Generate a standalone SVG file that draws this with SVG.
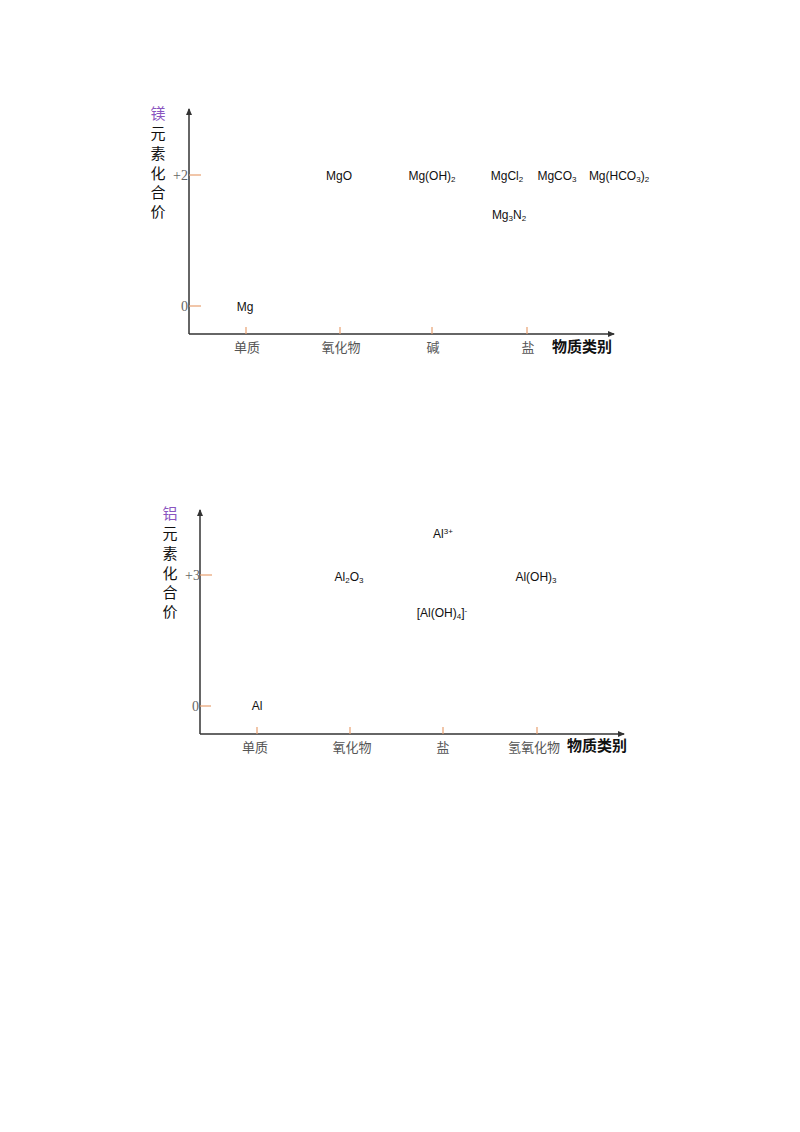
<svg xmlns="http://www.w3.org/2000/svg" width="800" height="1132" viewBox="0 0 800 1132">
<style>
.ax{stroke:#333;stroke-width:1.5;fill:none}
.tk{stroke:#e8a070;stroke-width:1.2}
.yl{font-family:"Noto Sans CJK SC",sans-serif;font-size:15px;fill:#111;text-anchor:middle}
.el{fill:#8a55c0}
.num{font-family:"Liberation Serif",serif;font-size:14px;fill:#666;text-anchor:end}
.cat{font-family:"Noto Sans CJK SC",sans-serif;font-size:13px;fill:#555;text-anchor:middle}
.ttl{font-family:"Noto Sans CJK SC",sans-serif;font-size:15px;font-weight:bold;fill:#111;text-anchor:middle}
.ch{font-family:"Liberation Sans",Arial,sans-serif;font-size:12px;fill:#111;text-anchor:middle}
.sb{font-size:8px}
</style>
<defs>
<marker id="ar" markerWidth="8" markerHeight="8" refX="6" refY="3" orient="auto" markerUnits="userSpaceOnUse">
<path d="M0,0 L7,3 L0,6 Z" fill="#333"/>
</marker>
</defs>
<g id="chart-mg">
<g id="connectors-mg">
<line class="ax" x1="189" y1="334" x2="189" y2="109" marker-end="url(#ar)"/>
<line class="ax" x1="189" y1="334" x2="614" y2="334" marker-end="url(#ar)"/>
<line class="tk" x1="189" y1="175" x2="201" y2="175"/>
<line class="tk" x1="189" y1="306" x2="201" y2="306"/>
<line class="tk" x1="246" y1="327" x2="246" y2="334"/>
<line class="tk" x1="340" y1="327" x2="340" y2="334"/>
<line class="tk" x1="432" y1="327" x2="432" y2="334"/>
<line class="tk" x1="527" y1="327" x2="527" y2="334"/>
</g>
<g id="ylabel-mg">
<text class="yl"><tspan class="el" x="158" y="119">镁</tspan><tspan x="158" y="139">元</tspan><tspan x="158" y="159">素</tspan><tspan x="158" y="179">化</tspan><tspan x="158" y="198">合</tspan><tspan x="158" y="217">价</tspan></text>
</g>
<text class="num" x="188" y="180">+2</text>
<text class="num" x="188" y="311">0</text>
<g id="cats-mg">
<text class="cat" x="247" y="352">单质</text>
<text class="cat" x="341" y="352">氧化物</text>
<text class="cat" x="433" y="352">碱</text>
<text class="cat" x="528" y="352">盐</text>
<text class="ttl" x="582" y="352">物质类别</text>
</g>
<g id="n-mg"><text class="ch" x="245" y="311">Mg</text></g>
<g id="n-mgo"><text class="ch" x="339" y="180">MgO</text></g>
<g id="n-mgoh2"><text class="ch" x="432" y="180">Mg(OH)<tspan class="sb" dy="2">2</tspan></text></g>
<g id="n-mgcl2"><text class="ch" x="507" y="180">MgCl<tspan class="sb" dy="2">2</tspan></text></g>
<g id="n-mgco3"><text class="ch" x="557" y="180">MgCO<tspan class="sb" dy="2">3</tspan></text></g>
<g id="n-mghco32"><text class="ch" x="619" y="180">Mg(HCO<tspan class="sb" dy="2">3</tspan><tspan dy="-2">)</tspan><tspan class="sb" dy="2">2</tspan></text></g>
<g id="n-mg3n2"><text class="ch" x="509" y="219">Mg<tspan class="sb" dy="2">3</tspan><tspan dy="-2">N</tspan><tspan class="sb" dy="2">2</tspan></text></g>
</g>
<g id="chart-al">
<g id="connectors-al">
<line class="ax" x1="200" y1="734" x2="200" y2="510" marker-end="url(#ar)"/>
<line class="ax" x1="200" y1="734" x2="624" y2="734" marker-end="url(#ar)"/>
<line class="tk" x1="200" y1="575" x2="212" y2="575"/>
<line class="tk" x1="200" y1="706" x2="211" y2="706"/>
<line class="tk" x1="257" y1="727" x2="257" y2="734"/>
<line class="tk" x1="350" y1="727" x2="350" y2="734"/>
<line class="tk" x1="443" y1="727" x2="443" y2="734"/>
<line class="tk" x1="537" y1="727" x2="537" y2="734"/>
</g>
<g id="ylabel-al">
<text class="yl"><tspan class="el" x="170" y="519">铝</tspan><tspan x="170" y="539">元</tspan><tspan x="170" y="559">素</tspan><tspan x="170" y="579">化</tspan><tspan x="170" y="598">合</tspan><tspan x="170" y="617">价</tspan></text>
</g>
<text class="num" x="200" y="580">+3</text>
<text class="num" x="199" y="711">0</text>
<g id="cats-al">
<text class="cat" x="255" y="752">单质</text>
<text class="cat" x="352" y="752">氧化物</text>
<text class="cat" x="443" y="752">盐</text>
<text class="cat" x="534" y="752">氢氧化物</text>
<text class="ttl" x="597" y="751">物质类别</text>
</g>
<g id="n-al"><text class="ch" x="257" y="710">Al</text></g>
<g id="n-al2o3"><text class="ch" x="349" y="581">Al<tspan class="sb" dy="2">2</tspan><tspan dy="-2">O</tspan><tspan class="sb" dy="2">3</tspan></text></g>
<g id="n-al3"><text class="ch" x="443" y="538">Al<tspan class="sb" dy="-4">3+</tspan></text></g>
<g id="n-aloh3"><text class="ch" x="536" y="581">Al(OH)<tspan class="sb" dy="2">3</tspan></text></g>
<g id="n-aloh4"><text class="ch" x="442" y="617">[Al(OH)<tspan class="sb" dy="2">4</tspan><tspan dy="-2">]</tspan><tspan class="sb" dy="-4">-</tspan></text></g>
</g>
</svg>
